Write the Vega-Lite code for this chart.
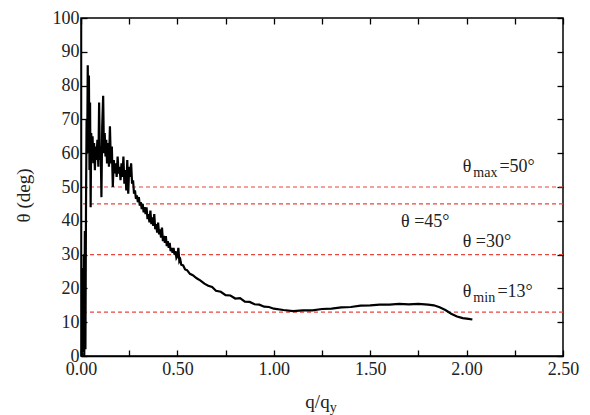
{
  "$schema": "https://vega.github.io/schema/vega-lite/v6.json",
  "width": 482,
  "height": 338,
  "autosize": "none",
  "padding": {"left": 81, "top": 18, "right": 27, "bottom": 59},
  "background": "white",
  "config": {
    "view": {"stroke": "black", "strokeWidth": 1.5},
    "axis": {
      "grid": false,
      "domainColor": "black",
      "domainWidth": 1.5,
      "tickColor": "black",
      "tickWidth": 1.3,
      "tickSize": -6,
      "labelFont": "Liberation Serif",
      "labelFontSize": 18,
      "labelColor": "#222",
      "titleFont": "Liberation Serif",
      "titleFontSize": 19,
      "titleFontWeight": "normal",
      "titleColor": "#222"
    },
    "text": {"font": "Liberation Serif", "color": "#222"}
  },
  "datasets": {
    "curve": [
      {"q": 0.0, "theta": 0}, {"q": 0.005, "theta": 0}, {"q": 0.008, "theta": 26}, {"q": 0.011, "theta": 1},
      {"q": 0.014, "theta": 30}, {"q": 0.017, "theta": 0}, {"q": 0.020, "theta": 37}, {"q": 0.023, "theta": 2},
      {"q": 0.026, "theta": 45}, {"q": 0.029, "theta": 70}, {"q": 0.032, "theta": 60}, {"q": 0.035, "theta": 86},
      {"q": 0.038, "theta": 62}, {"q": 0.041, "theta": 83}, {"q": 0.044, "theta": 55}, {"q": 0.047, "theta": 75},
      {"q": 0.050, "theta": 44}, {"q": 0.053, "theta": 66}, {"q": 0.056, "theta": 60}, {"q": 0.060, "theta": 65},
      {"q": 0.064, "theta": 57}, {"q": 0.068, "theta": 63}, {"q": 0.072, "theta": 55}, {"q": 0.076, "theta": 62},
      {"q": 0.080, "theta": 58}, {"q": 0.085, "theta": 64}, {"q": 0.090, "theta": 56}, {"q": 0.094, "theta": 75},
      {"q": 0.098, "theta": 58}, {"q": 0.102, "theta": 62}, {"q": 0.106, "theta": 47}, {"q": 0.110, "theta": 68},
      {"q": 0.115, "theta": 77}, {"q": 0.119, "theta": 60}, {"q": 0.123, "theta": 66}, {"q": 0.127, "theta": 59},
      {"q": 0.131, "theta": 64}, {"q": 0.135, "theta": 57}, {"q": 0.140, "theta": 63}, {"q": 0.145, "theta": 56},
      {"q": 0.150, "theta": 68}, {"q": 0.155, "theta": 57}, {"q": 0.160, "theta": 62}, {"q": 0.165, "theta": 50},
      {"q": 0.170, "theta": 58}, {"q": 0.175, "theta": 54}, {"q": 0.180, "theta": 57}, {"q": 0.185, "theta": 53},
      {"q": 0.190, "theta": 59}, {"q": 0.195, "theta": 54}, {"q": 0.200, "theta": 56}, {"q": 0.205, "theta": 52},
      {"q": 0.210, "theta": 57}, {"q": 0.215, "theta": 53}, {"q": 0.220, "theta": 59}, {"q": 0.225, "theta": 51},
      {"q": 0.230, "theta": 55}, {"q": 0.235, "theta": 49}, {"q": 0.240, "theta": 58}, {"q": 0.245, "theta": 48},
      {"q": 0.250, "theta": 56}, {"q": 0.255, "theta": 53}, {"q": 0.260, "theta": 57}, {"q": 0.265, "theta": 51},
      {"q": 0.270, "theta": 52}, {"q": 0.275, "theta": 48}, {"q": 0.280, "theta": 49}, {"q": 0.285, "theta": 46.5},
      {"q": 0.290, "theta": 47.5}, {"q": 0.295, "theta": 45.5}, {"q": 0.300, "theta": 47}, {"q": 0.305, "theta": 44.5},
      {"q": 0.310, "theta": 45.5}, {"q": 0.315, "theta": 43.5}, {"q": 0.320, "theta": 45}, {"q": 0.325, "theta": 42.5},
      {"q": 0.330, "theta": 44}, {"q": 0.335, "theta": 42}, {"q": 0.340, "theta": 44}, {"q": 0.345, "theta": 40.5},
      {"q": 0.350, "theta": 42}, {"q": 0.355, "theta": 39.5}, {"q": 0.360, "theta": 43}, {"q": 0.365, "theta": 39},
      {"q": 0.370, "theta": 41}, {"q": 0.375, "theta": 38.5}, {"q": 0.380, "theta": 42}, {"q": 0.385, "theta": 37.5},
      {"q": 0.390, "theta": 39}, {"q": 0.395, "theta": 36.5}, {"q": 0.400, "theta": 39.5}, {"q": 0.405, "theta": 36},
      {"q": 0.410, "theta": 37.5}, {"q": 0.415, "theta": 35}, {"q": 0.420, "theta": 38}, {"q": 0.425, "theta": 34},
      {"q": 0.430, "theta": 35.5}, {"q": 0.435, "theta": 33.5}, {"q": 0.440, "theta": 35.5}, {"q": 0.445, "theta": 32.5},
      {"q": 0.450, "theta": 34}, {"q": 0.455, "theta": 32}, {"q": 0.460, "theta": 33.5}, {"q": 0.465, "theta": 31},
      {"q": 0.470, "theta": 32}, {"q": 0.475, "theta": 30.5}, {"q": 0.480, "theta": 32}, {"q": 0.485, "theta": 30},
      {"q": 0.490, "theta": 31}, {"q": 0.495, "theta": 29}, {"q": 0.500, "theta": 29.5}, {"q": 0.505, "theta": 32},
      {"q": 0.510, "theta": 28}, {"q": 0.515, "theta": 28.5}, {"q": 0.520, "theta": 27}, {"q": 0.530, "theta": 26.8},
      {"q": 0.540, "theta": 25.6}, {"q": 0.550, "theta": 25.4}, {"q": 0.565, "theta": 24.3}, {"q": 0.580, "theta": 23.9},
      {"q": 0.600, "theta": 23}, {"q": 0.620, "theta": 22.3}, {"q": 0.640, "theta": 21.4}, {"q": 0.660, "theta": 20.8},
      {"q": 0.680, "theta": 20.4}, {"q": 0.700, "theta": 19.3}, {"q": 0.725, "theta": 19}, {"q": 0.750, "theta": 18},
      {"q": 0.775, "theta": 17.9}, {"q": 0.800, "theta": 17}, {"q": 0.825, "theta": 17.1}, {"q": 0.850, "theta": 16.1},
      {"q": 0.875, "theta": 16}, {"q": 0.900, "theta": 15.3}, {"q": 0.925, "theta": 15.2}, {"q": 0.950, "theta": 14.6},
      {"q": 0.975, "theta": 14.5}, {"q": 1.000, "theta": 14}, {"q": 1.050, "theta": 13.6}, {"q": 1.100, "theta": 13.3},
      {"q": 1.150, "theta": 13.5}, {"q": 1.200, "theta": 13.5}, {"q": 1.250, "theta": 13.9}, {"q": 1.300, "theta": 14},
      {"q": 1.350, "theta": 14.4}, {"q": 1.400, "theta": 14.5}, {"q": 1.450, "theta": 14.9}, {"q": 1.500, "theta": 15},
      {"q": 1.550, "theta": 15.2}, {"q": 1.600, "theta": 15.2}, {"q": 1.650, "theta": 15.4}, {"q": 1.700, "theta": 15.3},
      {"q": 1.750, "theta": 15.4}, {"q": 1.800, "theta": 15.2}, {"q": 1.830, "theta": 15.0}, {"q": 1.860, "theta": 14.4},
      {"q": 1.890, "theta": 13.6}, {"q": 1.920, "theta": 12.5}, {"q": 1.950, "theta": 11.7}, {"q": 1.980, "theta": 11.2},
      {"q": 2.010, "theta": 11.0}, {"q": 2.030, "theta": 10.8}
    ],
    "refs": [{"theta": 50}, {"theta": 45}, {"theta": 30}, {"theta": 13}],
    "notes": [
      {"q": 1.98, "theta": 54.4, "label": "θ", "kind": "main"},
      {"q": 2.035, "theta": 54.4, "label": "max", "kind": "sub"},
      {"q": 2.17, "theta": 54.4, "label": "=50°", "kind": "main"},
      {"q": 1.66, "theta": 38.2, "label": "θ =45°", "kind": "main"},
      {"q": 1.98, "theta": 32.2, "label": "θ =30°", "kind": "main"},
      {"q": 1.98, "theta": 17.5, "label": "θ", "kind": "main"},
      {"q": 2.035, "theta": 17.5, "label": "min", "kind": "sub"},
      {"q": 2.16, "theta": 17.5, "label": "=13°", "kind": "main"},
      {"q": 1.29, "theta": -15.1, "label": "y", "kind": "sub"}
    ]
  },
  "resolve": {"axis": {"x": "independent", "y": "independent"}},
  "layer": [
    {
      "data": {"name": "refs"},
      "mark": {"type": "rule", "color": "#e8453c", "strokeWidth": 1.2, "strokeDash": [4, 3]},
      "encoding": {
        "y": {"field": "theta", "type": "quantitative", "scale": {"domain": [0, 100]}, "axis": null}
      }
    },
    {
      "data": {"name": "curve"},
      "mark": {"type": "line", "color": "black", "strokeWidth": 2.2},
      "encoding": {
        "x": {
          "field": "q", "type": "quantitative",
          "scale": {"domain": [0, 2.5], "nice": false, "zero": false},
          "axis": {
            "orient": "bottom",
            "values": [0, 0.25, 0.5, 0.75, 1, 1.25, 1.5, 1.75, 2, 2.25, 2.5],
            "labelExpr": "datum.value % 0.5 == 0 ? format(datum.value, '.2f') : ''",
            "labelPadding": 10,
            "labelFlush": false,
            "title": "q/q",
            "titleX": 236,
            "titleY": 51,
            "titleBaseline": "alphabetic"
          }
        },
        "y": {
          "field": "theta", "type": "quantitative",
          "scale": {"domain": [0, 100], "nice": false},
          "axis": {
            "orient": "left",
            "values": [0, 10, 20, 30, 40, 50, 60, 70, 80, 90, 100],
            "labelPadding": 8,
            "labelFlush": false,
            "title": "θ (deg)",
            "titleX": -58,
            "titleY": 177,
            "titleAngle": 270,
            "titleBaseline": "middle",
            "titleAlign": "center"
          }
        }
      }
    },
    {
      "data": {"name": "notes"},
      "transform": [{"filter": "datum.kind == 'main'"}],
      "mark": {"type": "text", "align": "left", "baseline": "alphabetic", "fontSize": 18},
      "encoding": {
        "x": {
          "field": "q", "type": "quantitative",
          "scale": {"domain": [0, 2.5], "nice": false, "zero": false},
          "axis": {
            "orient": "top",
            "values": [0, 0.25, 0.5, 0.75, 1, 1.25, 1.5, 1.75, 2, 2.25, 2.5],
            "labels": false, "title": null, "domain": false
          }
        },
        "y": {
          "field": "theta", "type": "quantitative",
          "scale": {"domain": [0, 100], "nice": false},
          "axis": {
            "orient": "right",
            "values": [0, 10, 20, 30, 40, 50, 60, 70, 80, 90, 100],
            "labels": false, "title": null, "domain": false
          }
        },
        "text": {"field": "label"}
      }
    },
    {
      "data": {"name": "notes"},
      "transform": [{"filter": "datum.kind == 'sub'"}],
      "mark": {"type": "text", "align": "left", "baseline": "alphabetic", "fontSize": 14, "dy": 5},
      "encoding": {
        "x": {"field": "q", "type": "quantitative", "scale": {"domain": [0, 2.5], "nice": false, "zero": false}, "axis": null},
        "y": {"field": "theta", "type": "quantitative", "scale": {"domain": [0, 100], "nice": false}, "axis": null},
        "text": {"field": "label"}
      }
    }
  ]
}
